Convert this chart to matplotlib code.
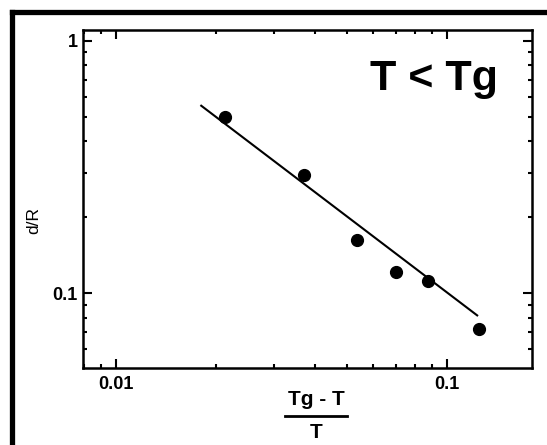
import numpy as np
import matplotlib
matplotlib.use("Agg")
import matplotlib.pyplot as plt
from matplotlib.lines import Line2D
from matplotlib.ticker import LogLocator, FixedLocator, FixedFormatter, NullFormatter

plt.rcParams['font.family'] = ['Liberation Sans', 'DejaVu Sans']

# measured points, (Tg - T)/T against d/R
x_vals = [0.0214, 0.0371, 0.0535, 0.0703, 0.0875, 0.1249]
dr_vals = [0.500, 0.294, 0.163, 0.122, 0.112, 0.072]

# straight fit drawn through them (end points)
fit_x = [0.0180, 0.1243]
fit_y = [0.557, 0.0813]

x_ticks = [0.01, 0.1]
x_ticklabels = ['0.01', '0.1']
y_ticks = [0.1, 1]
y_ticklabels = ['0.1', '1']

fig = plt.figure(figsize=(5.47, 4.45), dpi=100)
W, H = 547, 445
ax = fig.add_axes([83 / W, 1 - 368 / H, (532 - 83) / W, (368 - 30) / H])

ax.plot(fit_x, fit_y, color='black', lw=1.5, solid_capstyle='butt')
ax.plot(x_vals, dr_vals, 'o', color='black', ms=8.5)

ax.set_xscale('log')
ax.set_yscale('log')
ax.set_xlim(0.00795, 0.181)
ax.set_ylim(0.0506, 1.105)

ax.xaxis.set_major_locator(FixedLocator(x_ticks))
ax.xaxis.set_major_formatter(FixedFormatter(x_ticklabels))
ax.yaxis.set_major_locator(FixedLocator(y_ticks))
ax.yaxis.set_major_formatter(FixedFormatter(y_ticklabels))
ax.xaxis.set_minor_locator(LogLocator(base=10, subs=np.arange(2, 10)))
ax.yaxis.set_minor_locator(LogLocator(base=10, subs=np.arange(2, 10)))
ax.xaxis.set_minor_formatter(NullFormatter())
ax.yaxis.set_minor_formatter(NullFormatter())

for s in ax.spines.values():
    s.set_linewidth(1.8)
ax.tick_params(which='both', direction='in', top=True, right=True, width=1.5)
ax.tick_params(which='major', length=6.5)
ax.tick_params(which='minor', length=3.2)
ax.tick_params(axis='x', which='major', pad=6, labelsize=13)
ax.tick_params(axis='y', which='major', pad=4, labelsize=13)
for lab in ax.get_xticklabels() + ax.get_yticklabels():
    lab.set_fontweight('bold')

ax.text(0.924, 0.822, 'T < Tg', transform=ax.transAxes, ha='right',
        va='baseline', fontsize=31, fontweight='bold')

# y label
fig.text(34 / W, 1 - 220 / H, 'd/R', rotation=90, ha='center', va='center',
         fontsize=12.5)

# x label as a fraction
fig.text(316 / W, 1 - 405 / H, 'Tg - T', ha='center', va='baseline',
         fontsize=15, fontweight='bold')
fig.text(316 / W, 1 - 438 / H, 'T', ha='center', va='baseline',
         fontsize=15, fontweight='bold')
fig.add_artist(Line2D([285 / W, 347 / W], [1 - 416 / H, 1 - 416 / H],
                      color='black', lw=2, transform=fig.transFigure))

# thick frame round the figure (top and left sides show)
fig.add_artist(Line2D([11.7 / W, 1.0], [1 - 11.5 / H, 1 - 11.5 / H],
                      color='black', lw=3.8, transform=fig.transFigure,
                      solid_capstyle='projecting'))
fig.add_artist(Line2D([11.7 / W, 11.7 / W], [1 - 11.5 / H, 0.0],
                      color='black', lw=3.8, transform=fig.transFigure,
                      solid_capstyle='projecting'))

fig.savefig('out.png', dpi=100)
